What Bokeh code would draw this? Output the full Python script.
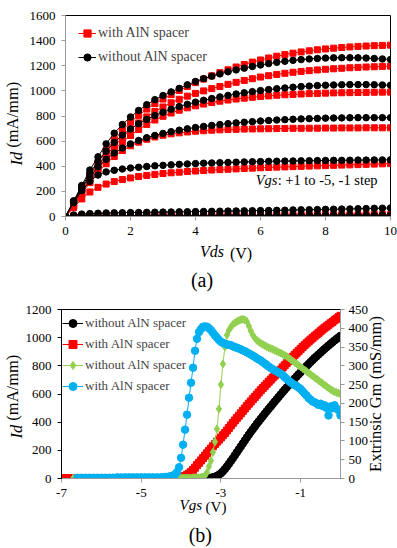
import math
from bokeh.plotting import figure
from bokeh.models import Range1d, LinearAxis, FixedTicker, Legend, LegendItem, Label
from bokeh.embed import file_html
from bokeh.resources import INLINE

nan = float("nan")
FONT = "Liberation Serif"
RED = "#FF0000"
GREEN = "#92D050"
BLUE = "#00B0F0"
GREY = "#9A9A9A"

# ---------------- (a) Id-Vds, Vgs = +1 ... -5 V, -1 V step ----------------
vds = [i * 0.25 for i in range(41)]          # sweep grid 0 .. 10 V
vgs_levels = ["+1", "0", "-1", "-2", "-3", "-4", "-5"]
x_ticks_a = [0, 2, 4, 6, 8, 10]
y_ticks_a = [0, 200, 400, 600, 800, 1000, 1200, 1400, 1600]

# with AlN spacer
aln_p1 = [0, 100, 215, 330, 430, 525, 610, 685, 750, 805, 855, 898, 935, 970, 1003, 1035, 1066, 1094, 1120, 1145,
          1168, 1190, 1210, 1229, 1246, 1262, 1276, 1289, 1300, 1310, 1319, 1327, 1334, 1340, 1345, 1350, 1354,
          1357, 1360, 1362, 1364]
aln_0 = [0, 95, 200, 305, 400, 485, 560, 627, 690, 745, 793, 835, 872, 905, 933, 958, 980, 1000, 1018, 1035,
         1052, 1068, 1083, 1097, 1110, 1121, 1131, 1140, 1148, 1155, 1161, 1167, 1172, 1176, 1180, 1184, 1187,
         1190, 1192, 1195, 1197]
aln_m1 = [0, 90, 190, 290, 380, 460, 530, 592, 645, 692, 733, 768, 798, 824, 846, 865, 881, 895, 907, 918,
          927, 935, 942, 949, 955, 960, 965, 969, 972, 975, 978, 980, 982, 984, 985, 986, 987, 988, 989, 990, 990]
aln_m2 = [0, 85, 180, 270, 350, 420, 478, 525, 563, 592, 615, 633, 647, 658, 666, 673, 679, 683, 687, 690,
          692, 694, 696, 697, 698, 699, 700, 701, 702, 702, 703, 703, 704, 704, 705, 705, 705, 706, 706, 706, 706]
aln_m3 = [0, 70, 140, 195, 232, 258, 278, 294, 307, 318, 327, 335, 342, 348, 353, 358, 362, 366, 370, 373,
          376, 379, 382, 385, 388, 390, 393, 395, 397, 399, 401, 403, 405, 407, 409, 411, 413, 415, 417, 419, 421]
aln_m4 = [0, 4, 6, 7, 8, 8, 8, 9, 9, 9, 9, 10, 10, 10, 10, 10, 11, 11, 11, 11, 11, 11, 12, 12, 12, 12, 12,
          13, 13, 13, 13, 13, 14, 14, 14, 14, 14, 15, 15, 15, 15]
aln_m5 = [0, 1, 2, 2, 2, 2, 2, 2, 2, 2, 2, 2, 2, 3, 3, 3, 3, 3, 3, 3, 3, 3, 3, 3, 3, 3, 3, 3, 3, 3, 3, 3, 3,
          4, 4, 4, 4, 4, 4, 4, 4]

# without AlN spacer
noaln_p1 = [0, 125, 247, 370, 475, 578, 663, 732, 792, 844, 890, 930, 963, 992, 1020, 1048, 1075, 1097, 1117,
            1135, 1152, 1167, 1181, 1194, 1206, 1217, 1227, 1236, 1243, 1249, 1254, 1258, 1261, 1263, 1264,
            1264, 1263, 1261, 1258, 1254, 1250]
noaln_0 = [0, 120, 235, 345, 440, 520, 590, 648, 697, 738, 773, 803, 830, 854, 875, 893, 910, 925, 939, 952,
           964, 975, 985, 994, 1002, 1010, 1017, 1023, 1029, 1034, 1038, 1042, 1045, 1047, 1049, 1050, 1050,
           1050, 1049, 1047, 1045]
noaln_m1 = [0, 115, 225, 320, 395, 455, 505, 545, 578, 605, 627, 645, 661, 675, 687, 698, 708, 717, 725, 732,
            739, 745, 750, 755, 760, 764, 768, 771, 774, 777, 779, 781, 783, 784, 785, 786, 787, 787, 787, 787, 787]
noaln_m2 = [0, 110, 205, 280, 330, 355, 368, 378, 386, 392, 398, 403, 407, 411, 415, 418, 421, 424, 426, 428,
            430, 432, 434, 436, 437, 439, 440, 441, 442, 443, 444, 445, 446, 447, 447, 448, 449, 449, 450, 450, 451]
noaln_m3 = [0, 12, 19, 23, 26, 28, 29, 30, 31, 32, 33, 34, 35, 36, 37, 38, 39, 40, 41, 42, 43, 44, 45, 46,
            47, 48, 49, 50, 52, 53, 54, 55, 57, 58, 59, 60, 62, 63, 65, 66, 68]
noaln_m4 = [0, 3, 5, 5, 6, 6, 6, 6, 6, 7, 7, 7, 7, 7, 7, 7, 7, 7, 7, 8, 8, 8, 8, 8, 8, 8, 8, 8, 8, 8, 9, 9,
            9, 9, 9, 9, 9, 9, 9, 9, 9]
noaln_m5 = [0, 1, 1, 1, 1, 1, 1, 1, 1, 1, 1, 1, 1, 1, 1, 1, 1, 1, 1, 1, 2, 2, 2, 2, 2, 2, 2, 2, 2, 2, 2, 2,
            2, 2, 2, 2, 2, 2, 2, 2, 2]

curves_with = [aln_p1, aln_0, aln_m1, aln_m2, aln_m3, aln_m4, aln_m5]
curves_without = [noaln_p1, noaln_0, noaln_m1, noaln_m2, noaln_m3, noaln_m4, noaln_m5]

# ---------------- (b) transfer characteristics ----------------
# measurement grid: -7.0 .. -4.6 every 0.1 V, then -4.50 .. 0.00 every 0.05 V
vgs = [round(-7.0 + 0.1 * i, 2) for i in range(25)] + [round(-4.5 + 0.05 * i, 2) for i in range(91)]
x_ticks_b = [-7, -5, -3, -1]
x_tick_text_b = {-7: "-7", -5: "-5", -3: "-3", -1: "-1"}
y_ticks_b = [0, 200, 400, 600, 800, 1000, 1200]
gm_ticks_b = [0, 50, 100, 150, 200, 250, 300, 350, 400, 450]

id_without_aln = [
    1, 1, 1, 1, 1, 1, 1, 1, 1, 1, 1, 1, 1, 1, 1, 1, 1, 1, 1, 1, 1, 1, 1, 1, 1,
    1, 1, 1, 1, 1, 1, 1, 1, 1, 1,
    1, 1, 1, 1, 1, 1, 1, 1, 1, 1,
    1, 1, 1, 2, 3, 5, 8, 12, 18, 26,
    37, 51, 67, 85, 104, 124, 144, 165, 186, 207,
    228, 249, 270, 291, 311, 331, 350, 369, 388, 406,
    424, 442, 460, 478, 495, 512, 529, 546, 563, 580,
    597, 614, 630, 646, 662, 678, 694, 710, 725, 740,
    755, 770, 785, 799, 813, 827, 841, 855, 868, 881,
    894, 907, 920, 932, 944, 956, 968, 980, 991, 1002,
    1013]
id_with_aln = [
    3, 3, 3, 2, 3, 3, 3, 3, 3, 3, 3, 3, 3, 3, 3, 3, 3, 3, 3, 3, 3, 3, 3, 3, 3,
    3, 3, 3, 3, 4, 4, 5, 5, 6, 7,
    9, 13, 18, 26, 35, 47, 61, 77, 95, 111,
    128, 145, 162, 179, 196, 213, 229, 245, 261, 276,
    291, 307, 323, 341, 359, 377, 395, 412, 429, 446,
    463, 480, 497, 514, 531, 547, 563, 579, 595, 611,
    627, 642, 657, 672, 687, 702, 717, 731, 745, 759,
    773, 789, 804, 819, 834, 849, 864, 878, 892, 906,
    920, 934, 947, 960, 973, 986, 998, 1010, 1022, 1034,
    1046, 1058, 1070, 1080, 1091, 1102, 1112, 1124, 1134, 1145,
    1155]
gm_without_aln = [
    nan, nan, nan, 1, 1, 1, 1, 1, 1, 1, 1, 1, 1, 1, 1, 1, 1, 1, 1, 1, 1, 1, 1, 1, 1,
    1, 1, 1, 1, 1, 1, 1, 1, 1, 1,
    1, 1, 1, 1, 1, 1, 2, 2, 2, 2,
    3, 4, 8, 16, 32, 47, 70, 98, 132, 185,
    250, 305, 350, 382, 395, 403, 410, 414, 418, 421,
    423, 424, 422, 418, 406, 393, 382, 374, 368, 364,
    360, 357, 354, 351, 348, 346, 344, 341, 339, 336,
    334, 331, 328, 325, 321, 317, 313, 309, 305, 301,
    297, 293, 289, 285, 281, 277, 273, 269, 265, 261,
    257, 253, 249, 245, 241, 237, 234, 231, 229, 227,
    225]
gm_with_aln = [
    nan, nan, nan, nan, 2, 2, 2, 2, 2, 2, 2, 2, 2, 2, 3, 3, 3, 3, 3, 3, 3, 3, 3, 3, 3,
    3, 3, 4, 4, 5, 6, 8, 11, 17, 30,
    55, 90, 130, 170, 215, 255, 295, 340, 372, 390,
    398, 404, 405, 404, 400, 395, 388, 381, 375, 369,
    364, 361, 359, 357, 356, 355, 352, 350, 348, 346,
    344, 341, 339, 336, 333, 330, 327, 324, 320, 317,
    314, 310, 306, 302, 298, 294, 291, 288, 285, 282,
    279, 275, 270, 265, 260, 256, 252, 249, 246, 242,
    238, 232, 226, 221, 214, 210, 205, 203, 200, 196,
    199, 193, 195, 188, 168, 192, 187, 195, 186, 182,
    168]


def style_axis(ax, color, standoff, ticks):
    ax.ticker = FixedTicker(ticks=ticks)
    ax.axis_line_color = color
    ax.axis_line_width = 1
    ax.major_tick_line_color = color
    ax.major_tick_out = 4
    ax.major_tick_in = 0
    ax.minor_tick_line_color = None
    ax.major_label_text_font = FONT
    ax.major_label_text_font_size = "13px"
    ax.major_label_text_color = "black"
    ax.major_label_standoff = standoff
    ax.axis_label = None


def text_axis(plot, side, pos, text, size, standoff, italic=False, orientation="horizontal", range_name=None):
    """A tick-less axis that carries one piece of an axis title (so parts can be italic)."""
    kw = {"y_range_name": range_name} if range_name else {}
    ax = LinearAxis(ticker=FixedTicker(ticks=[pos]), major_label_overrides={pos: text}, **kw)
    ax.axis_line_color = None
    ax.major_tick_line_color = None
    ax.minor_tick_line_color = None
    ax.major_tick_out = 0
    ax.major_tick_in = 0
    ax.major_label_standoff = standoff
    ax.major_label_text_font = FONT
    ax.major_label_text_font_size = size
    ax.major_label_text_font_style = "italic" if italic else "normal"
    ax.major_label_text_color = "black"
    ax.major_label_orientation = orientation
    plot.add_layout(ax, side)


def data_label(plot, x, y, text, size, italic=False, x_offset=0):
    plot.add_layout(Label(x=x, y=y, text=text, x_offset=x_offset,
                          text_font=FONT, text_font_size=size,
                          text_font_style="italic" if italic else "normal",
                          text_color="black", text_align="left", text_baseline="middle"))


# ---------- figure (a) ----------
p1 = figure(width=397, height=297, x_range=Range1d(0, 10), y_range=Range1d(0, 1600),
            output_backend="svg", toolbar_location=None,
            min_border_left=65, min_border_right=7, min_border_top=15, min_border_bottom=81)
p1.xgrid.visible = False
p1.ygrid.visible = False
p1.outline_line_color = "black"
p1.outline_line_alpha = 1
style_axis(p1.xaxis[0], GREY, 6, x_ticks_a)
style_axis(p1.yaxis[0], GREY, 6, y_ticks_a)

with_r = None
without_r = None
for k, ys in enumerate(curves_with):
    l = p1.line(vds, ys, line_color=RED, line_width=1)
    s = p1.scatter(vds, ys, marker="square", size=6, fill_color=RED, line_color=RED)
    if k == 0:
        with_r = [l, s]
for k, ys in enumerate(curves_without):
    l = p1.line(vds, ys, line_color="black", line_width=1)
    s = p1.scatter(vds, ys, marker="circle", size=6.5, fill_color="black", line_color="black")
    if k == 0:
        without_r = [l, s]

leg1 = Legend(items=[LegendItem(label="with AlN spacer", renderers=with_r),
                     LegendItem(label="without AlN spacer", renderers=without_r)],
              location=(13, 149), label_text_font=FONT, label_text_font_size="14px",
              glyph_width=18, glyph_height=20, label_height=20, label_standoff=2, spacing=4,
              padding=0, margin=0, border_line_color=None, background_fill_alpha=0)
p1.add_layout(leg1)

data_label(p1, 5.85, 287, "Vgs", "14.5px", italic=True)
data_label(p1, 5.85, 287, ": +1 to -5, -1 step", "14.5px", x_offset=22)

# axis titles of (a)
text_axis(p1, "below", 4.51, "Vds", "16px", 5, italic=True)
text_axis(p1, "below", 5.40, "(V)", "16px", -18)
text_axis(p1, "below", 4.20, "(a)", "20px", 4)
text_axis(p1, "left", 461, "Id", "16.5px", 0, italic=True, orientation="vertical")
text_axis(p1, "left", 810, "(mA/mm)", "16.5px", -18, orientation="vertical")

# ---------- figure (b) ----------
p2 = figure(width=397, height=251, x_range=Range1d(-7, 0), y_range=Range1d(0, 1200),
            output_backend="svg", toolbar_location=None,
            min_border_left=61, min_border_right=55, min_border_top=12, min_border_bottom=70)
p2.extra_y_ranges = {"gm": Range1d(0, 450)}
p2.xgrid.visible = False
p2.ygrid.visible = False
p2.outline_line_color = "black"
p2.outline_line_alpha = 1
style_axis(p2.xaxis[0], GREY, 6, x_ticks_b)
p2.xaxis[0].major_label_overrides = x_tick_text_b
style_axis(p2.yaxis[0], "black", 6, y_ticks_b)
gm_axis = LinearAxis(y_range_name="gm")
style_axis(gm_axis, GREY, 4, gm_ticks_b)
p2.add_layout(gm_axis, "right")

b_l = p2.line(vgs, id_without_aln, line_color="black", line_width=1)
b_s = p2.scatter(vgs, id_without_aln, marker="circle", size=7.5, color="black")
r_l = p2.line(vgs, id_with_aln, line_color=RED, line_width=1)
r_s = p2.scatter(vgs, id_with_aln, marker="square", size=7, color=RED)
g_l = p2.line(vgs, gm_without_aln, line_color=GREEN, line_width=1, y_range_name="gm")
g_s = p2.scatter(vgs, gm_without_aln, marker="diamond", size=8, color=GREEN, y_range_name="gm")
c_l = p2.line(vgs, gm_with_aln, line_color=BLUE, line_width=1, y_range_name="gm")
c_s = p2.scatter(vgs, gm_with_aln, marker="circle", size=7.5, color=BLUE, y_range_name="gm")

leg2 = Legend(items=[LegendItem(label="without AlN spacer", renderers=[b_l, b_s]),
                     LegendItem(label="with AlN spacer", renderers=[r_l, r_s]),
                     LegendItem(label="without AlN spacer", renderers=[g_l, g_s]),
                     LegendItem(label="with AlN spacer", renderers=[c_l, c_s])],
              location=(1, 82), label_text_font=FONT, label_text_font_size="13px",
              glyph_width=21, glyph_height=20, label_height=20, label_standoff=2, spacing=1,
              padding=0, margin=0, border_line_color=None, background_fill_alpha=0)
p2.add_layout(leg2)

# axis titles of (b)
text_axis(p2, "below", -3.756, "Vgs", "15px", -3, italic=True)
text_axis(p2, "below", -3.124, "(V)", "15px", -17)
text_axis(p2, "below", -3.517, "(b)", "20px", 6)
text_axis(p2, "left", 332, "Id", "16.5px", -4, italic=True, orientation="vertical")
text_axis(p2, "left", 645, "(mA/mm)", "16.5px", -18, orientation="vertical")
text_axis(p2, "right", 17.6, "Extrinsic Gm (mS/mm)", "16.5px", 4, orientation=math.pi / 2, range_name="gm")

open("out.html", "w").write(file_html([p1, p2], INLINE, title="Id-Vds and transfer characteristics"))
